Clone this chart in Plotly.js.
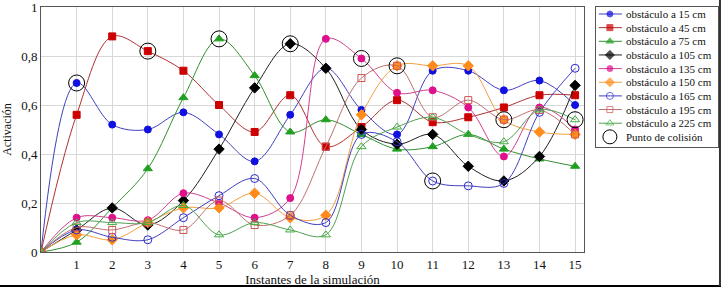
<!DOCTYPE html>
<html><head><meta charset="utf-8">
<script src="https://cdn.plot.ly/plotly-3.0.1.min.js"></script>
<style>body{margin:0;background:#fff}#c{width:721px;height:287px}</style>
</head><body><div id="c"></div>
<script>
const steps = [0,1,2,3,4,5,6,7,8,9,10,11,12,13,14,15];
const names = ["obstáculo a 15 cm","obstáculo a 45 cm","obstáculo a 75 cm","obstáculo a 105 cm","obstáculo a 135 cm","obstáculo a 150 cm","obstáculo a 165 cm","obstáculo a 195 cm","obstáculo a 225 cm"];
const s15  = [0,0.69,0.52,0.50,0.57,0.48,0.37,0.56,0.75,0.58,0.48,0.74,0.74,0.66,0.70,0.60];
const s45  = [0,0.56,0.88,0.82,0.74,0.60,0.49,0.64,0.43,0.51,0.62,0.53,0.55,0.59,0.64,0.64];
const s75  = [0,0.04,0.18,0.34,0.63,0.87,0.72,0.49,0.54,0.48,0.42,0.43,0.48,0.42,0.38,0.35];
const s105 = [0,0.09,0.18,0.11,0.21,0.42,0.67,0.85,0.75,0.50,0.44,0.48,0.35,0.29,0.39,0.68];
const s135 = [0,0.14,0.14,0.13,0.24,0.20,0.14,0.22,0.87,0.79,0.65,0.66,0.59,0.39,0.59,0.50];
const s150 = [0,0.07,0.05,0.12,0.18,0.18,0.24,0.14,0.15,0.56,0.76,0.76,0.76,0.54,0.49,0.48];
const s165 = [0,0.09,0.06,0.05,0.14,0.23,0.30,0.15,0.12,0.48,0.45,0.29,0.27,0.28,0.57,0.75];
const s195 = [0,0.10,0.09,0.12,0.09,0.21,0.11,0.15,0.43,0.71,0.76,0.55,0.62,0.54,0.58,0.48];
const s225 = [0,0.12,0.12,0.12,0.19,0.07,0.12,0.09,0.07,0.43,0.51,0.55,0.48,0.45,0.58,0.54];
const collX = [1,3,5,7,9,10,11,13,15];
const collY = [0.69,0.82,0.87,0.85,0.79,0.76,0.29,0.54,0.54];
const collName = "Punto de colisión";
const xTicks = [1,2,3,4,5,6,7,8,9,10,11,12,13,14,15];
const yTicks = [0,0.2,0.4,0.6,0.8,1];
const yTickText = ['0','0,2','0,4','0,6','0,8','1'];

const FONT = '"Liberation Serif", "DejaVu Serif", serif';
const series = [s15,s45,s75,s105,s135,s150,s165,s195,s225];
const colors = ["#1010e0","#cc0000","#20a020","#000000","#e0108c","#ff8c1a","#2a2ad0","#d05050","#40b040"];
const lineCols = ["#4040c0","#b03030","#309030","#202020","#d04090","#f0a040","#4040c0","#c07070","#50a050"];
const symbols = ["circle","square","triangle-up","diamond","circle","diamond","circle-open","square-open","triangle-up-open"];
const sizes = [7,7,8,8,7,8,8,7,8];

const traces = series.map((s,i)=>({
  x: steps, y: s, name: names[i], type:'scatter', mode:'lines+markers',
  line:{color:lineCols[i], width:1, shape:'spline', smoothing:1},
  marker:{symbol:symbols[i], size:sizes[i], color:colors[i], line:{color:colors[i], width:1}}
}));
traces.push({x:collX, y:collY, name:collName, type:'scatter', mode:'markers',
  marker:{symbol:'circle-open', size:16, color:'#000', line:{width:1, color:'#000'}}});

// custom legend drawn in a small auxiliary axes
const rowY = i => 7 + 13.65*i;
const annotations = [];
series.forEach((s,i)=>{
  traces.push({x:[3,14,26], y:[rowY(i),rowY(i),rowY(i)], xaxis:'x2', yaxis:'y2', type:'scatter',
    mode:'lines+markers', hoverinfo:'skip',
    line:{color:lineCols[i], width:1},
    marker:{symbol:symbols[i], size:[0,sizes[i]-1,0], color:colors[i], line:{color:colors[i], width:1}}});
  annotations.push({xref:'x2', yref:'y2', x:28, y:rowY(i), text:names[i], showarrow:false,
    xanchor:'left', yanchor:'middle', font:{family:FONT, size:11, color:'#111'}});
});
traces.push({x:[14], y:[rowY(9)], xaxis:'x2', yaxis:'y2', type:'scatter', mode:'markers', hoverinfo:'skip',
  marker:{symbol:'circle-open', size:14, color:'#000', line:{width:1,color:'#000'}}});
annotations.push({xref:'x2', yref:'y2', x:28, y:rowY(9), text:collName, showarrow:false,
  xanchor:'left', yanchor:'middle', font:{family:FONT, size:11, color:'#111'}});

const layout = {
  width:721, height:287,
  margin:{l:41, r:0, t:7, b:35},
  paper_bgcolor:'#fff', plot_bgcolor:'#fff',
  font:{family:FONT, color:'#111', size:12},
  showlegend:false,
  xaxis:{domain:[0,0.7985], range:[0,15.25], tickvals:xTicks, ticks:'', showgrid:true,
    gridcolor:'#d8d8d8', gridwidth:1, zeroline:false, showline:true, mirror:true, linecolor:'#555', linewidth:1,
    tickfont:{family:FONT, size:13}, title:{text:'Instantes de la simulación', standoff:2, font:{family:FONT, size:13}}},
  yaxis:{range:[0,1.0001], tickvals:yTicks, ticktext:yTickText, ticks:'', ticklabeloverflow:'allow',
    showgrid:true, gridcolor:'#d8d8d8', zeroline:false, showline:true, mirror:true, linecolor:'#555', linewidth:1,
    tickfont:{family:FONT, size:13}, title:{text:'Activación', standoff:6, font:{family:FONT, size:12}}},
  xaxis2:{domain:[0.816,0.9956], range:[0,122], anchor:'y2', showgrid:false, zeroline:false, showticklabels:false,
    ticks:'', showline:true, mirror:true, linecolor:'#555', linewidth:1, fixedrange:true},
  yaxis2:{domain:[0.4286,1], range:[140,0], anchor:'x2', showgrid:false, zeroline:false, showticklabels:false,
    ticks:'', showline:true, mirror:true, linecolor:'#555', linewidth:1, fixedrange:true},
  annotations: annotations,
  shapes:[
    {type:'line', xref:'paper', yref:'paper', x0:-0.0603, x1:1, y0:-0.1388, y1:-0.1388, line:{color:'#000', width:2}},
    {type:'line', xref:'paper', yref:'paper', x0:0.9985, x1:0.9985, y0:-0.1388, y1:1.0286, line:{color:'#333', width:2}}
  ]
};
Plotly.newPlot('c', traces, layout, {displayModeBar:false, staticPlot:true});
</script></body></html>
